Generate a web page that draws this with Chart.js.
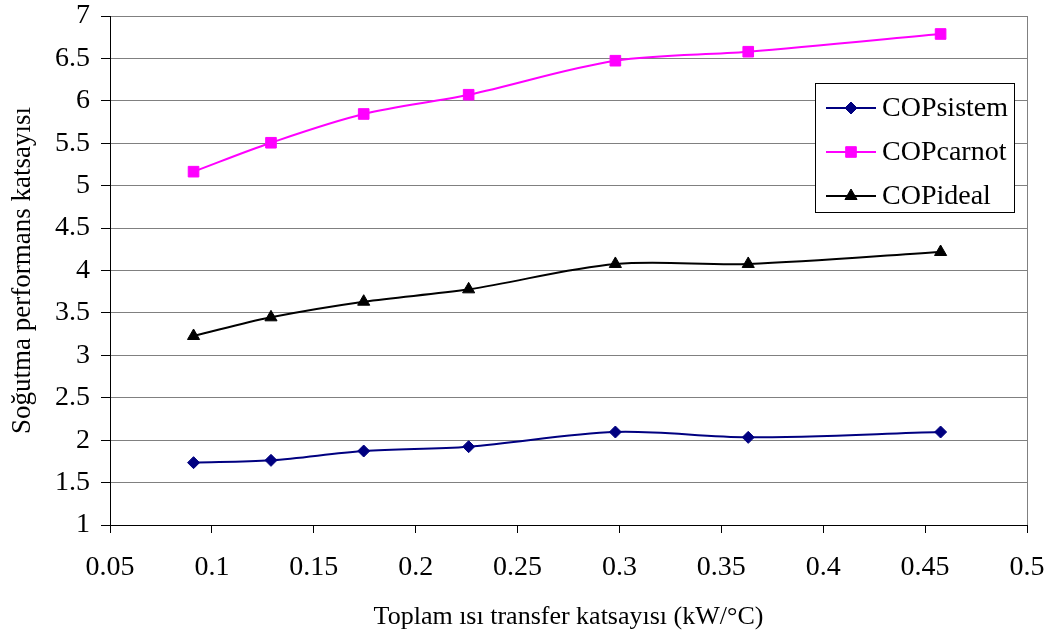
<!DOCTYPE html>
<html>
<head>
<meta charset="utf-8">
<script src="https://cdn.jsdelivr.net/npm/chart.js@4/dist/chart.umd.min.js"></script>
<style>
  html, body { margin: 0; padding: 0; background: #fff; }
  #wrap { width: 1056px; height: 644px; }
</style>
</head>
<body>
<div id="wrap"><canvas id="cop" width="1056" height="644"></canvas></div>
<script>
// Toplam ısı transfer katsayısı (kW/°C)
const xValues = [0.091, 0.129, 0.1745, 0.226, 0.298, 0.3632, 0.4576];
const copSistem = [1.735, 1.762, 1.872, 1.923, 2.096, 2.033, 2.096];
const copCarnot = [5.165, 5.506, 5.845, 6.072, 6.473, 6.579, 6.788];
const copIdeal = [3.228, 3.448, 3.632, 3.778, 4.077, 4.077, 4.218];
const seriesNames = ["COPsistem", "COPcarnot", "COPideal"];

const serif = "'Liberation Serif', 'Times New Roman', serif";

function pts(ys) {
    return xValues.map((x, i) => ({ x: x, y: ys[i] }));
}

// legend box drawn inside the plot, like the Excel original
const legendBox = {
    id: 'legendBox',
    afterDatasetsDraw(chart) {
        const ctx = chart.ctx;
        const x0 = 815, y0 = 83, w = 199, h = 129;
        ctx.save();
        ctx.fillStyle = '#fff';
        ctx.fillRect(x0, y0, w, h);
        ctx.strokeStyle = '#000';
        ctx.lineWidth = 1;
        ctx.strokeRect(x0 + 0.5, y0 + 0.5, w, h);
        ctx.font = "28px " + serif;
        ctx.textBaseline = 'middle';
        chart.data.datasets.forEach(function (ds, i) {
            const cy = 108 + i * 44;
            ctx.strokeStyle = ds.borderColor;
            ctx.lineWidth = 2;
            ctx.beginPath();
            ctx.moveTo(826, cy);
            ctx.lineTo(876, cy);
            ctx.stroke();
            ctx.fillStyle = ds.pointBackgroundColor;
            ctx.strokeStyle = ds.borderColor;
            ctx.lineWidth = 1;
            Chart.helpers.drawPoint(ctx, { pointStyle: ds.pointStyle, radius: ds.pointRadius, rotation: 0, borderWidth: 1 }, 851, cy);
            ctx.fillStyle = '#000';
            ctx.fillText(ds.label, 882, cy + 1);
        });
        ctx.restore();
    }
};

const rightBorder = {
    id: 'rightBorder',
    beforeDatasetsDraw(chart) {
        const a = chart.chartArea;
        const ctx = chart.ctx;
        ctx.save();
        ctx.strokeStyle = '#808080';
        ctx.lineWidth = 1;
        ctx.beginPath();
        ctx.moveTo(Math.round(a.right) + 0.5, a.top);
        ctx.lineTo(Math.round(a.right) + 0.5, a.bottom);
        ctx.stroke();
        ctx.restore();
    }
};

new Chart(document.getElementById('cop'), {
    type: 'line',
    data: {
        datasets: [
            {
                label: seriesNames[0], data: pts(copSistem),
                borderColor: '#000080', pointBackgroundColor: '#000080',
                pointStyle: 'rectRot', pointRadius: 6
            },
            {
                label: seriesNames[1], data: pts(copCarnot),
                borderColor: '#ff00ff', pointBackgroundColor: '#ff00ff',
                pointStyle: 'rect', pointRadius: 7.5
            },
            {
                label: seriesNames[2], data: pts(copIdeal),
                borderColor: '#000000', pointBackgroundColor: '#000000',
                pointStyle: 'triangle', pointRadius: 7
            }
        ]
    },
    options: {
        responsive: false,
        animation: false,
        devicePixelRatio: 1,
        datasets: {
            line: { borderWidth: 2, tension: 0.33, pointBorderWidth: 1, fill: false }
        },
        layout: { padding: { left: 0, right: 29, top: 16, bottom: 0 } },
        plugins: {
            legend: { display: false },
            tooltip: { enabled: false }
        },
        scales: {
            x: {
                type: 'linear',
                min: 0.05, max: 0.5,
                afterFit: function (s) {
                    s.height = 119;
                    s.paddingLeft = 0;
                    s.paddingRight = 0;
                },
                ticks: {
                    stepSize: 0.05,
                    color: '#000',
                    font: { family: serif, size: 28 },
                    padding: 18,
                    maxRotation: 0,
                    callback: v => String(Number(v.toFixed(2)))
                },
                grid: { drawOnChartArea: false, drawTicks: true, tickLength: 8, color: '#000' },
                border: { color: '#000', width: 1 },
                title: {
                    display: true,
                    text: 'Toplam ısı transfer katsayısı (kW/°C)',
                    color: '#000',
                    font: { family: serif, size: 26 },
                    padding: { top: 0, bottom: 11 }
                }
            },
            y: {
                min: 1, max: 7,
                afterFit: function (s) {
                    s.width = 110;
                    s.paddingTop = 0;
                    s.paddingBottom = 0;
                },
                ticks: {
                    stepSize: 0.5,
                    color: '#000',
                    font: { family: serif, size: 28 },
                    padding: 11,
                    callback: v => String(v)
                },
                grid: { color: '#808080', tickColor: '#000', tickLength: 9 },
                border: { color: '#000', width: 1 },
                title: {
                    display: true,
                    text: 'Soğutma performans katsayısı',
                    color: '#000',
                    font: { family: serif, size: 27 },
                    padding: { top: 7, bottom: 0 }
                }
            }
        }
    },
    plugins: [rightBorder, legendBox]
});
</script>
</body>
</html>
